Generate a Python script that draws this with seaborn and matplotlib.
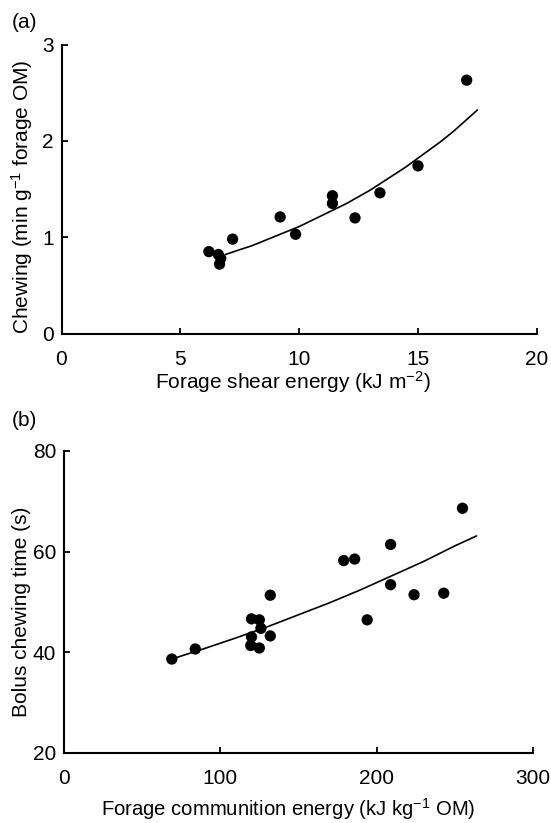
import matplotlib
matplotlib.use("Agg")
import matplotlib.pyplot as plt
import seaborn as sns
import pandas as pd

# Panel (a) data
shear_energy = [6.2, 6.6, 6.7, 6.65, 7.2, 9.2, 9.85, 11.4, 11.4, 12.35, 13.4, 15.0, 17.05]
chewing = [0.85, 0.82, 0.78, 0.72, 0.98, 1.21, 1.03, 1.43, 1.35, 1.20, 1.46, 1.74, 2.63]
fit_a_x = [6.9, 7.5, 8.0, 8.5, 9.0, 9.5, 10.0, 10.5, 11.0, 11.5, 12.0, 12.5,
           13.0, 13.5, 14.0, 14.5, 15.0, 15.5, 16.0, 16.5, 17.0, 17.5]
fit_a_y = [0.82, 0.87, 0.91, 0.96, 1.01, 1.06, 1.11, 1.17, 1.23, 1.29, 1.35, 1.42,
           1.49, 1.57, 1.65, 1.73, 1.82, 1.91, 2.00, 2.10, 2.21, 2.32]

# Panel (b) data
communition_energy = [69, 84, 120, 125, 126, 120, 119.5, 125, 132, 132, 179, 186, 194, 209, 209, 224, 243, 255]
bolus_time = [38.6, 40.6, 46.6, 46.4, 44.7, 43.0, 41.3, 40.8, 43.2, 51.3, 58.2, 58.5, 46.4, 61.4, 53.4, 51.4, 51.7, 68.6]
fit_b_x = [72, 90, 110, 130, 150, 170, 190, 210, 230, 250, 264]
fit_b_y = [38.9, 40.7, 42.8, 45.0, 47.4, 49.8, 52.4, 55.2, 58.0, 61.1, 63.1]

sns.set_theme(style="white")
plt.rcParams['font.family'] = ['Liberation Sans', 'DejaVu Sans']
plt.rcParams['mathtext.fontset'] = 'custom'
plt.rcParams['mathtext.rm'] = 'Liberation Sans'
plt.rcParams['mathtext.it'] = 'Liberation Sans:italic'
plt.rcParams['text.color'] = 'black'
plt.rcParams['axes.labelcolor'] = 'black'

FS = 15
W, H = 551, 823
fig = plt.figure(figsize=(W / 100, H / 100), dpi=100)
ax_a = fig.add_axes([61.5 / W, 1 - 333.5 / H, (536.8 - 61.5) / W, (333.5 - 44.5) / H])
ax_b = fig.add_axes([64 / W, 1 - 752.5 / H, (532.8 - 64) / W, (752.5 - 451) / H])

df_a = pd.DataFrame({"x": shear_energy, "y": chewing})
df_fa = pd.DataFrame({"x": fit_a_x, "y": fit_a_y})
df_b = pd.DataFrame({"x": communition_energy, "y": bolus_time})
df_fb = pd.DataFrame({"x": fit_b_x, "y": fit_b_y})

for ax, df, dff in [(ax_a, df_a, df_fa), (ax_b, df_b, df_fb)]:
    sns.lineplot(data=dff, x="x", y="y", ax=ax, color="black", linewidth=1.2, sort=True)
    sns.scatterplot(data=df, x="x", y="y", ax=ax, color="black", s=66, edgecolor="none", zorder=3)
    for side in ["top", "right"]:
        ax.spines[side].set_visible(False)
    for side in ["left", "bottom"]:
        ax.spines[side].set_linewidth(1.5)
        ax.spines[side].set_color("black")
    ax.tick_params(direction="in", length=4, width=1.3, colors="black",
                   labelsize=FS, left=True, bottom=True)
    ax.tick_params(axis="x", pad=12)
    ax.tick_params(axis="y", pad=5.5)
    ax.set_facecolor("white")

ax_a.set_xlim(0, 20)
ax_a.set_ylim(0, 3)
ax_a.set_xticks([0, 5, 10, 15, 20])
ax_a.set_yticks([0, 1, 2, 3])
ax_a.set_xlabel("Forage shear energy (kJ m$^{-2}$)", fontsize=FS, color="black")
ax_a.set_ylabel("Chewing (min g$^{-1}$ forage OM)", fontsize=FS, color="black")

ax_b.set_xlim(0, 300)
ax_b.set_ylim(20, 80)
ax_b.set_xticks([0, 100, 200, 300])
ax_b.set_yticks([20, 40, 60, 80])
ax_b.set_xlabel("Forage communition energy (kJ kg$^{-1}$ OM)", fontsize=14.6, color="black")
ax_b.set_ylabel("Bolus chewing time (s)", fontsize=FS, color="black")

# label placement (figure coordinates)
ax_a.xaxis.set_label_coords(293 / W, 1 - 382 / H, transform=fig.transFigure)
ax_b.xaxis.set_label_coords(288 / W, 1 - 809 / H, transform=fig.transFigure)
ax_a.yaxis.set_label_coords(22 / W, 1 - 197 / H, transform=fig.transFigure)
ax_b.yaxis.set_label_coords(22 / W, 1 - 612 / H, transform=fig.transFigure)
for lab in [ax_a.xaxis.label, ax_b.xaxis.label, ax_a.yaxis.label, ax_b.yaxis.label]:
    lab.set_va("center")
    lab.set_ha("center")

fig.text(12 / W, 1 - 22 / H, "(a)", fontsize=FS, va="center", ha="left", color="black")
fig.text(12 / W, 1 - 421 / H, "(b)", fontsize=FS, va="center", ha="left", color="black")

fig.savefig("out.png", dpi=100, facecolor="white")
